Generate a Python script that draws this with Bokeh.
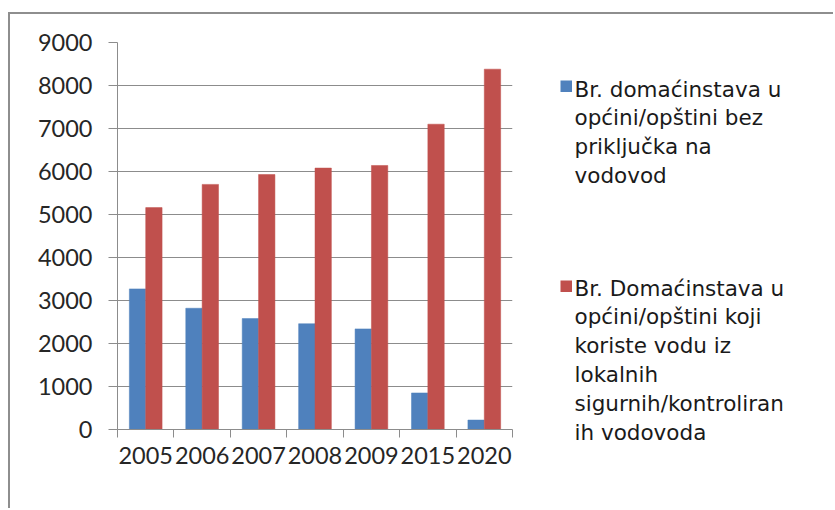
from bokeh.plotting import figure
from bokeh.layouts import row
from bokeh.models import FixedTicker, LinearAxis, Range1d
from bokeh.core.properties import value
from bokeh.embed import file_html
from bokeh.resources import INLINE

# ---- data ----
years = ["2005", "2006", "2007", "2008", "2009", "2015", "2020"]
no_connection = [3270, 2820, 2580, 2460, 2340, 850, 220]
local_supply = [5160, 5700, 5930, 6080, 6140, 7100, 8380]
y_ticks = [0, 1000, 2000, 3000, 4000, 5000, 6000, 7000, 8000, 9000]
legend_blue = ["Br. domaćinstava u", "općini/opštini bez", "priključka na", "vodovod"]
legend_red = ["Br. Domaćinstava u", "općini/opštini koji", "koriste vodu iz",
              "lokalnih", "sigurnih/kontroliran", "ih vodovoda"]

BLUE = "#4F81BD"
RED = "#C0504D"
GRID = "#8c8c8c"
TXT = "#262626"
TICK_FONT = "Lato"
TICK_SIZE = "23.5px"

# ---- layout (page pixels) ----
OX, OY = 10, 14            # canvas origin on the page
H = 494
FL, FT, FW, FHt = 107, 28, 395, 387
W1 = 510
W2 = 313

n = len(years)
p = figure(width=W1, height=H, x_range=(0, n), y_range=(0, 9000),
           output_backend="svg", toolbar_location=None,
           min_border_left=FL, min_border_top=FT,
           min_border_right=W1 - FL - FW, min_border_bottom=H - FT - FHt)
p.outline_line_color = None
p.background_fill_color = "white"
p.border_fill_color = "white"

centers = [i + 0.5 for i in range(n)]
bw = 0.29
p.vbar(x=[c - bw / 2 for c in centers], top=no_connection, width=bw,
       fill_color=BLUE, line_color=BLUE, line_width=0.5)
p.vbar(x=[c + bw / 2 for c in centers], top=local_supply, width=bw,
       fill_color=RED, line_color=RED, line_width=0.5)

# y axis
yt = FixedTicker(ticks=y_ticks)
ya = p.yaxis[0]
ya.ticker = yt
ya.major_tick_out = 9
ya.major_tick_in = 0
ya.minor_tick_line_color = None
ya.major_tick_line_color = GRID
ya.axis_line_color = GRID
ya.major_label_standoff = 16
ya.major_label_text_font = TICK_FONT
ya.major_label_text_font_size = TICK_SIZE
ya.major_label_text_color = TXT
p.ygrid.ticker = yt
p.ygrid.grid_line_color = GRID
p.xgrid.grid_line_color = None

# x axis: tick marks at category boundaries
xa = p.xaxis[0]
xa.ticker = FixedTicker(ticks=list(range(n + 1)))
xa.major_label_overrides = {i: "" for i in range(n + 1)}
xa.major_label_text_font_size = "0px"
xa.major_label_standoff = 0
xa.major_tick_out = 8
xa.major_tick_in = 0
xa.minor_tick_line_color = None
xa.major_tick_line_color = GRID
xa.axis_line_color = GRID

# x axis: category labels at category centres
xl = LinearAxis(ticker=FixedTicker(ticks=centers),
                major_label_overrides={c: y for c, y in zip(centers, years)},
                axis_line_color=None, major_tick_line_color=None,
                minor_tick_line_color=None, major_tick_out=0, major_tick_in=0,
                major_label_standoff=9, major_label_text_font=TICK_FONT,
                major_label_text_font_size=TICK_SIZE, major_label_text_color=TXT)
p.add_layout(xl, "below")

# ---- legend panel (pixel coordinates) ----
lf = figure(width=W2, height=H, x_range=Range1d(0, W2), y_range=Range1d(0, H),
            x_axis_type=None, y_axis_type=None,
            output_backend="svg", toolbar_location=None,
            min_border_left=0, min_border_right=0, min_border_top=0,
            min_border_bottom=0)
try:
    lf.frame_align = False
except Exception:
    pass
lf.outline_line_color = None
lf.background_fill_color = "white"
lf.border_fill_color = "white"
lf.xgrid.visible = False
lf.ygrid.visible = False

LX0 = OX + W1          # page x of legend panel's left edge


def lx(page_x):
    return page_x - LX0


def ly(page_y):
    return H - (page_y - OY)


LINE_STEP = 28.8
SQ = 11.5
entries = [(legend_blue, BLUE, 80, 88.5), (legend_red, RED, 280, 287.5)]
for lines, color, sq_top, base0 in entries:
    lf.quad(left=[lx(560)], right=[lx(560 + SQ)], top=[ly(sq_top)],
            bottom=[ly(sq_top + SQ)], fill_color=color, line_color=None)
    lf.text(x=[lx(574)] * len(lines),
            y=[ly(base0 + i * LINE_STEP) for i in range(len(lines))],
            text=lines, text_font=value("DejaVu Sans"),
            text_font_size=value("21.5px"), text_color="#1a1a1a",
            text_baseline="alphabetic", text_align="left")

layout = row(p, lf)
layout.styles = {"margin-left": "8px", "margin-top": "12px",
                 "border-top": "2px solid #8e8e8e",
                 "border-left": "2px solid #8e8e8e"}

open("out.html", "w").write(file_html(layout, INLINE))
